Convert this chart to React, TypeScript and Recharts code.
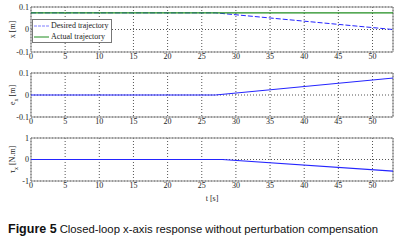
import React from "react";
import { LineChart, Line, XAxis, YAxis, CartesianGrid, ReferenceArea } from "recharts";

// time knots (s)
const xTime = [0, 27, 53];
const xDesired = [0.074, 0.074, 0.0];
const xActual = [0.074, 0.074, 0.074];

const eTime = [0, 27, 53];
const eValues = [0, 0, 0.077];

const tauTime = [0, 28, 53];
const tauValues = [0, 0, -0.54];

const timeTicks = [0, 5, 10, 15, 20, 25, 30, 35, 40, 45, 50];
const xTicks = [-0.1, 0, 0.1];
const eTicks = [-0.1, 0, 0.1];
const tauTicks = [-1, 0, 1];

const legendItems = ["Desired trajectory", "Actual trajectory"];

const T_MAX = 53;
const serif = "'Liberation Serif', 'Times New Roman', serif";
const tickStyle = { fontSize: 8, fill: "#222", fontFamily: serif };
const BLUE = "#2424ff";
const GREEN = "#1e8c1e";

const xData = xTime.map((t, i) => ({ t, desired: xDesired[i], actual: xActual[i] }));
const eData = eTime.map((t, i) => ({ t, e: eValues[i] }));
const tauData = tauTime.map((t, i) => ({ t, tau: tauValues[i] }));

function yLabel(main: string, sub: string | null, unit: string) {
  return (props: any) => {
    const vb = props.viewBox || {};
    const cx = 15;
    const cy = (vb.y ?? 0) + (vb.height ?? 0) / 2;
    return (
      <text
        x={cx}
        y={cy}
        transform={`rotate(-90 ${cx} ${cy})`}
        textAnchor="middle"
        fontSize={8}
        fontFamily={serif}
        fill="#222"
      >
        {main}
        {sub ? (
          <tspan fontSize={6} dy={2.5}>
            {sub}
          </tspan>
        ) : null}
        <tspan dy={sub ? -2.5 : 0}>{" " + unit}</tspan>
      </text>
    );
  };
}

function LegendBox() {
  const row = (sample: React.ReactNode, label: string) => (
    <div key={label} style={{ display: "flex", alignItems: "center", height: 11 }}>
      <svg width={15} height={6} style={{ marginRight: 2, flex: "none" }}>
        {sample}
      </svg>
      <span>{label}</span>
    </div>
  );
  return (
    <div
      style={{
        position: "absolute",
        left: 32,
        top: 19,
        border: "1px solid #777",
        background: "#fff",
        padding: "0px 2px 0px 1px",
        fontFamily: serif,
        fontSize: 8,
        color: "#222",
        lineHeight: "11px",
        whiteSpace: "nowrap",
      }}
    >
      {row(<line x1={0} y1={3} x2={15} y2={3} stroke="#7f7fff" strokeWidth={1} strokeDasharray="3 1" />, legendItems[0])}
      {row(<line x1={0} y1={3} x2={15} y2={3} stroke={GREEN} strokeWidth={1} />, legendItems[1])}
    </div>
  );
}

const common = {
  width: 406,
  margin: { top: 7, right: 13, left: 0, bottom: 0 },
};

function Frame({ y1, y2 }: { y1: number; y2: number }) {
  return <ReferenceArea x1={0} x2={T_MAX} y1={y1} y2={y2} fill="none" stroke="#8a8a8a" strokeWidth={1} ifOverflow="visible" />;
}

export default function App() {
  return (
    <div style={{ position: "absolute", left: 0, top: 0, width: 406, height: 246, background: "#fff" }}>
      <div style={{ position: "absolute", left: 0, top: 0 }}>
        <LineChart {...common} height={66} data={xData}>
          <CartesianGrid stroke="#555" strokeDasharray="1 2" />
          <XAxis type="number" dataKey="t" domain={[0, T_MAX]} ticks={timeTicks} tick={tickStyle} tickSize={0} tickMargin={1} axisLine={false} height={14} interval={0} />
          <YAxis domain={[-0.1, 0.1]} ticks={xTicks} tick={tickStyle} tickSize={0} tickMargin={2} axisLine={false} width={31} interval={0} label={yLabel("x", null, "[m]")} />
          <Frame y1={-0.1} y2={0.1} />
          <Line type="linear" dataKey="desired" stroke={BLUE} strokeWidth={1} strokeDasharray="5 2" dot={false} isAnimationActive={false} />
          <Line type="linear" dataKey="actual" stroke={GREEN} strokeWidth={1.3} dot={false} isAnimationActive={false} />
        </LineChart>
        <LegendBox />
      </div>
      <div style={{ position: "absolute", left: 0, top: 66 }}>
        <LineChart {...common} height={65} data={eData}>
          <CartesianGrid stroke="#555" strokeDasharray="1 2" />
          <XAxis type="number" dataKey="t" domain={[0, T_MAX]} ticks={timeTicks} tick={tickStyle} tickSize={0} tickMargin={1} axisLine={false} height={14} interval={0} />
          <YAxis domain={[-0.1, 0.1]} ticks={eTicks} tick={tickStyle} tickSize={0} tickMargin={2} axisLine={false} width={31} interval={0} label={yLabel("e", "x", "[m]")} />
          <Frame y1={-0.1} y2={0.1} />
          <Line type="linear" dataKey="e" stroke={BLUE} strokeWidth={1} dot={false} isAnimationActive={false} />
        </LineChart>
      </div>
      <div style={{ position: "absolute", left: 0, top: 131 }}>
        <LineChart {...common} height={72} data={tauData}>
          <CartesianGrid stroke="#555" strokeDasharray="1 2" />
          <XAxis
            type="number"
            dataKey="t"
            domain={[0, T_MAX]}
            ticks={timeTicks}
            tick={tickStyle}
            tickSize={0}
            tickMargin={1}
            axisLine={false}
            height={22}
            interval={0}
            label={{ value: "t [s]", position: "insideBottom", offset: 2, style: tickStyle }}
          />
          <YAxis domain={[-1, 1]} ticks={tauTicks} tick={tickStyle} tickSize={0} tickMargin={2} axisLine={false} width={31} interval={0} label={yLabel("τ", "x", "[N.m]")} />
          <Frame y1={-1} y2={1} />
          <Line type="linear" dataKey="tau" stroke={BLUE} strokeWidth={1.2} dot={false} isAnimationActive={false} />
        </LineChart>
      </div>
      <div
        style={{
          position: "absolute",
          left: 8,
          top: 219,
          fontFamily: "'Liberation Sans', Arial, sans-serif",
          color: "#111",
          whiteSpace: "nowrap",
        }}
      >
        <span style={{ fontWeight: "bold", fontSize: 12.5 }}>Figure 5</span>
        <span style={{ fontSize: 11.3, marginLeft: 3 }}>Closed-loop x-axis response without perturbation compensation</span>
      </div>
    </div>
  );
}
